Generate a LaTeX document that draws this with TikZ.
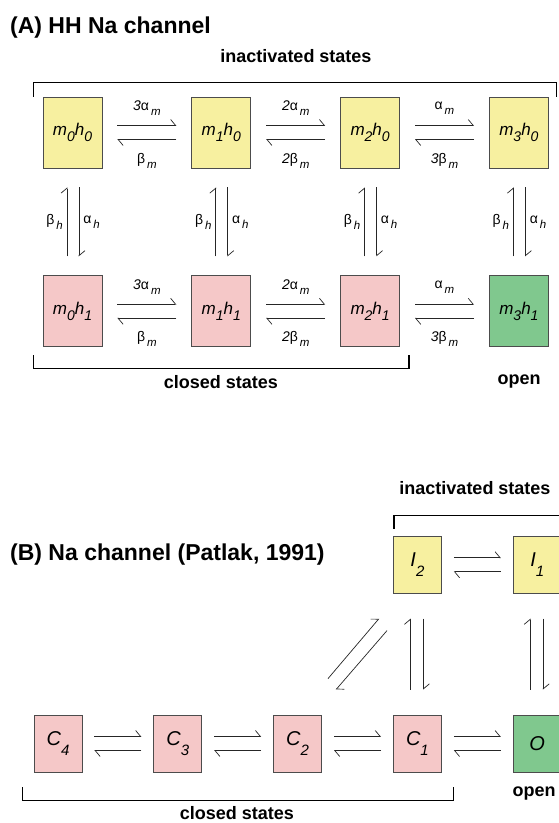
\documentclass[tikz,border=0pt]{standalone}
\usepackage{fontspec}
\setmainfont{Liberation Sans}
\usetikzlibrary{positioning,calc,arrows.meta}
\definecolor{inactfill}{RGB}{247,240,160}
\definecolor{closefill}{RGB}{245,200,200}
\definecolor{openfill}{RGB}{128,200,142}
% lowered subscripts
\newcommand\rlo[1]{\raisebox{-5pt}{\fontsize{11.5}{11.5}\selectfont\itshape\,#1}}
\newcommand\slo[1]{\raisebox{-6pt}{\fontsize{14}{14}\selectfont #1}}
\newcommand\blo[1]{\raisebox{-10pt}{\fontsize{15}{15}\selectfont #1}}

\begin{document}
\begin{tikzpicture}[x=1pt, y=-1pt,
    node distance=89pt,
    statebox/.style={rectangle, draw=black!70, line width=0.8pt, minimum width=59pt, minimum height=71pt, inner sep=0pt, font=\fontsize{17}{17}\selectfont\itshape},
    smallbox/.style={statebox, minimum width=48pt, minimum height=57pt, font=\fontsize{20}{20}\selectfont\itshape},
    inactbox/.style={fill=inactfill},
    closedbox/.style={fill=closefill},
    openbox/.style={fill=openfill},
    fwd/.style={draw=black!85, line width=0.7pt, -{Straight Barb[harpoon, length=5pt, width=12pt]}},
    rate/.style={font=\fontsize{14}{14}\selectfont, inner sep=0pt},
    heading/.style={font=\fontsize{23}{23}\selectfont\bfseries, anchor=west, inner sep=0pt},
    grouplabel/.style={font=\fontsize{18}{18}\selectfont\bfseries, inner sep=0pt},
    bracket/.style={line width=1.2pt}
]
\useasboundingbox (0,0) rectangle (558,823);

% (A) HH Na channel
\node (titleA) [heading] at (10,28) {(A) HH Na channel};

\node (m0h0) [statebox, inactbox] at (72.5,132.5) {m\slo{0}h\slo{0}};
\node (m1h0) [statebox, inactbox, right=of m0h0] {m\slo{1}h\slo{0}};
\node (m2h0) [statebox, inactbox, right=of m1h0] {m\slo{2}h\slo{0}};
\node (m3h0) [statebox, inactbox, right=of m2h0] {m\slo{3}h\slo{0}};
\node (m0h1) [statebox, closedbox, below=107pt of m0h0] {m\slo{0}h\slo{1}};
\node (m1h1) [statebox, closedbox, below=107pt of m1h0] {m\slo{1}h\slo{1}};
\node (m2h1) [statebox, closedbox, below=107pt of m2h0] {m\slo{2}h\slo{1}};
\node (m3h1) [statebox, openbox, below=107pt of m3h0] {m\slo{3}h\slo{1}};

\foreach \a/\b/\fw/\bk in {m0h0/m1h0/{\textit{3}α\rlo{m}}/{β\rlo{m}},
    m1h0/m2h0/{\textit{2}α\rlo{m}}/{\textit{2}β\rlo{m}},
    m2h0/m3h0/{α\rlo{m}}/{\textit{3}β\rlo{m}},
    m0h1/m1h1/{\textit{3}α\rlo{m}}/{β\rlo{m}},
    m1h1/m2h1/{\textit{2}α\rlo{m}}/{\textit{2}β\rlo{m}},
    m2h1/m3h1/{α\rlo{m}}/{\textit{3}β\rlo{m}}} {
  \draw[fwd] ($(\a.east)+(15,-7)$) -- ($(\b.west)+(-15,-7)$) node[midway, yshift=17pt, rate] {\fw};
  \draw[fwd] ($(\b.west)+(-15,7)$) -- ($(\a.east)+(15,7)$) node[midway, yshift=-21pt, rate] {\bk};
}

\foreach \i in {0,1,2,3} {
  \draw[fwd] ($(m\i h1.north)+(-5.5,-19)$) -- ($(m\i h0.south)+(-5.5,19)$) node[midway, left=4pt, rate] {β\rlo{h}};
  \draw[fwd] ($(m\i h0.south)+(6.5,19)$) -- ($(m\i h1.north)+(6.5,-19)$) node[midway, right=4pt, rate] {α\rlo{h}};
}

\draw[bracket] ([xshift=-9pt]m0h0.north west) -- ++(0,-14) -| ([xshift=8pt]m3h0.north east);
\node (inactA) [grouplabel] at (296,56) {inactivated states};
\draw[bracket] ($(m0h1.south west)+(-9,8)$) -- ++(0,13) -| ($(m2h1.south east)+(9,8)$);
\node (closedA) [grouplabel] at (221,382) {closed states};
\node (openA) [grouplabel] at (519,382) {open};

% (B) Na channel (Patlak, 1991)
\node (titleB) [heading] at (10,555) {(B) Na channel (Patlak, 1991)};

\node (C4) [smallbox, closedbox] at (58,743.5) {C\blo{4}};
\node (C3) [smallbox, closedbox, right=71pt of C4] {C\blo{3}};
\node (C2) [smallbox, closedbox, right=71pt of C3] {C\blo{2}};
\node (C1) [smallbox, closedbox, right=71pt of C2] {C\blo{1}};
\node (O) [smallbox, openbox, right=71pt of C1] {O};
\node (I2) [smallbox, inactbox, above=121pt of C1] {I\blo{2}};
\node (I1) [smallbox, inactbox, above=121pt of O] {I\blo{1}};

\foreach \a/\b in {C4/C3, C3/C2, C2/C1, C1/O, I2/I1} {
  \draw[fwd] ($(\a.east)+(12,-7)$) -- ($(\b.west)+(-12,-7)$);
  \draw[fwd] ($(\b.west)+(-12,7)$) -- ($(\a.east)+(12,7)$);
}
\foreach \a/\b in {C1/I2, O/I1} {
  \draw[fwd] ($(\a.north)+(-7,-25)$) -- ($(\b.south)+(-7,25)$);
  \draw[fwd] ($(\b.south)+(6,25)$) -- ($(\a.north)+(6,-25)$);
}
\draw[fwd] ($(C2.north east)+(6,-36)$) -- ($(I2.south west)+(-14,25)$);
\draw[fwd] ($(I2.south west)+(-6,37)$) -- ($(C2.north east)+(14,-25)$);

\draw[bracket] ($(I2.north west)+(1,-7)$) -- ++(0,-13) -| ($(I1.north east)+(-1,-7)$);
\node (inactB) [grouplabel] at (475,488) {inactivated states};
\draw[bracket] ($(C4.south west)+(-11,15)$) -- ++(0,13) -| ($(C1.south east)+(12,15)$);
\node (closedB) [grouplabel] at (237,813) {closed states};
\node (openB) [grouplabel] at (534,794) {open};
\end{tikzpicture}
\end{document}
